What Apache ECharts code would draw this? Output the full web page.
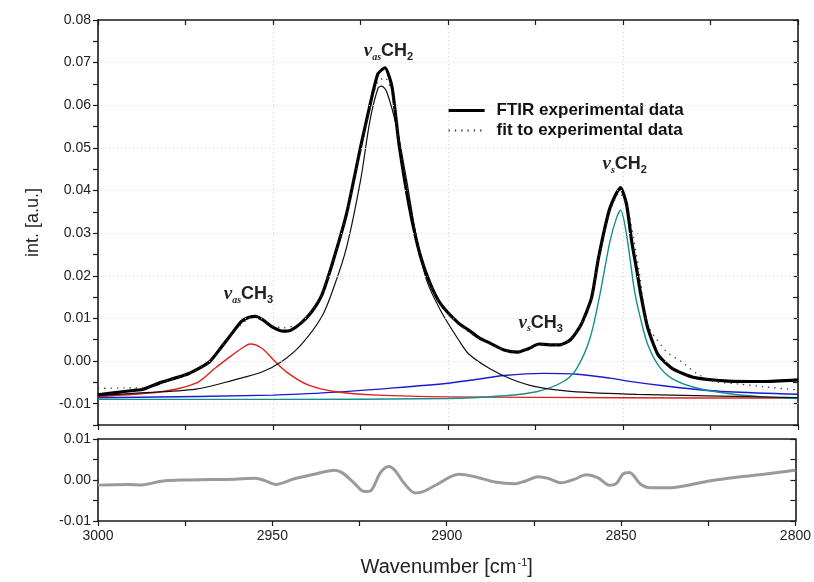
<!DOCTYPE html>
<html>
<head>
<meta charset="utf-8">
<script src="https://cdn.jsdelivr.net/npm/echarts@6/dist/echarts.min.js"></script>
<style>
  html, body { margin: 0; padding: 0; background: #fff; }
  #main { width: 814px; height: 582px; }
</style>
</head>
<body>
<div id="main"></div>
<script>
// FTIR spectrum, thick black
var ftirX = [3000, 2995, 2990, 2987, 2982, 2978, 2974, 2970, 2968, 2965, 2962, 2959, 2957, 2955, 2953, 2950, 2947, 2945, 2942, 2939,
    2936, 2933, 2929, 2925, 2922, 2920, 2918, 2916, 2914, 2911, 2908, 2905, 2902, 2897, 2894, 2891, 2888, 2884, 2880, 2877,
    2874, 2871, 2868, 2865, 2862, 2859, 2857, 2854, 2852, 2850.7, 2849, 2847.5, 2846, 2845, 2843, 2840, 2836, 2830, 2820, 2810, 2800];
var ftirY = [-0.0079, -0.0074, -0.0069, -0.0066, -0.0050, -0.0040, -0.0029, -0.0012, -0.0001, 0.0030, 0.0062, 0.0093, 0.0102, 0.0105, 0.0097, 0.0079, 0.0070, 0.0072, 0.0089, 0.0115,
    0.0156, 0.0230, 0.0345, 0.0501, 0.0611, 0.0674, 0.0688, 0.0643, 0.0509, 0.0360, 0.0250, 0.0180, 0.0133, 0.0089, 0.0072, 0.0054, 0.0042, 0.0026, 0.0021, 0.0029,
    0.0040, 0.0038, 0.0038, 0.0050, 0.0085, 0.0148, 0.0242, 0.0352, 0.0392, 0.0407, 0.0368, 0.0280, 0.0210, 0.0160, 0.0080, 0.0015, -0.0017, -0.0038, -0.0047, -0.0048, -0.0044];

// fit to experimental data, dotted
var fitX = [3000, 2990, 2986, 2982, 2974, 2968, 2962, 2957, 2955, 2950, 2947, 2942, 2936, 2929, 2925, 2922, 2920, 2918, 2916, 2914,
    2911, 2908, 2905, 2902, 2897, 2891, 2884, 2880, 2874, 2868, 2865, 2862, 2859, 2857, 2854, 2851, 2849, 2847, 2845, 2843,
    2837.6, 2833.4, 2829, 2824, 2816.6, 2810, 2800];
var fitY = [-0.0064, -0.0063, -0.0062, -0.0050, -0.0029, -0.0001, 0.0062, 0.0100, 0.0104, 0.0082, 0.0078, 0.0089, 0.0156, 0.0345, 0.0498, 0.0605, 0.0655, 0.0665, 0.0630, 0.0515,
    0.0370, 0.0256, 0.0180, 0.0130, 0.0086, 0.0052, 0.0026, 0.0021, 0.0039, 0.0038, 0.0050, 0.0085, 0.0148, 0.0240, 0.0345, 0.0395, 0.0370, 0.0290, 0.0190, 0.0085,
    0.0022, -0.0001, -0.0029, -0.0048, -0.0054, -0.0060, -0.0068];

// fitted components
var asCH2X = [3000, 2990, 2972, 2961, 2953, 2947.5, 2942, 2936, 2932.5, 2929, 2925, 2922.3, 2920, 2919, 2917.5, 2914.7, 2911.8, 2909, 2906, 2902,
    2897, 2894, 2888, 2882, 2875, 2865, 2846, 2800];
var asCH2Y = [-0.0081, -0.0076, -0.0066, -0.0044, -0.0025, -0.0001, 0.0038, 0.0105, 0.0176, 0.0266, 0.0423, 0.0564, 0.0640, 0.0645, 0.0631, 0.0549, 0.0423, 0.0289, 0.0187, 0.0117,
    0.0050, 0.0016, -0.0018, -0.0042, -0.0060, -0.0071, -0.0078, -0.0086];

var asCH3X = [3000, 2982, 2972, 2966.6, 2962.8, 2958.9, 2956.5, 2953.2, 2949.4, 2945.6, 2940, 2932, 2920, 2900, 2850, 2800];
var asCH3Y = [-0.0083, -0.0072, -0.0052, -0.0017, 0.0007, 0.0030, 0.0040, 0.0030, -0.0001, -0.0029, -0.0056, -0.0072, -0.0080, -0.0084, -0.0086, -0.0087];

var sCH3X = [3000, 2950, 2932, 2917, 2900, 2891, 2884, 2873, 2863, 2853.7, 2848.6, 2838.5, 2829.5, 2820, 2800];
var sCH3Y = [-0.0086, -0.0080, -0.0073, -0.0064, -0.0052, -0.0042, -0.0034, -0.0029, -0.0031, -0.0040, -0.0047, -0.0058, -0.0066, -0.0072, -0.0078];

var sCH2X = [3000, 2950, 2900, 2885, 2874.7, 2867, 2863.2, 2859.4, 2856.6, 2853.7, 2851.8, 2850.7, 2849, 2846.7, 2844.8, 2842.9, 2840, 2836.2, 2829.5, 2820,
    2810, 2800];
var sCH2Y = [-0.0090, -0.0090, -0.0088, -0.0082, -0.0072, -0.0048, -0.0017, 0.0054, 0.0156, 0.0282, 0.0337, 0.0354, 0.0297, 0.0164, 0.0093, 0.0038, -0.0009, -0.0040, -0.0062, -0.0076,
    -0.0084, -0.0088];

// residual (lower panel)
var resX = [3000, 2991.3, 2987.5, 2981.8, 2976.1, 2967.5, 2960.9, 2955.1, 2952.3, 2949, 2943.7, 2938, 2932.3, 2930, 2926.6, 2923.7, 2921.8, 2919, 2916.6, 2914.7,
    2912.3, 2909, 2906.6, 2902.8, 2896.6, 2891.9, 2886.2, 2880.5, 2877.6, 2873.8, 2870.9, 2867.1, 2863.3, 2860, 2856.7, 2853.3, 2851.4, 2849.5, 2847.6, 2844.3,
    2841.4, 2834.8, 2825.2, 2815.7, 2809.1, 2800];
var resY = [-0.00125, -0.0011, -0.0012, -0.0003, 0.0000, 0.0001, 0.0002, 0.0004, -0.0001, -0.0011, 0.0003, 0.0014, 0.0024, 0.0018, -0.0007, -0.0028, -0.0026, 0.0018, 0.0033, 0.0022,
    -0.0007, -0.0032, -0.0028, -0.0011, 0.0014, 0.0008, -0.0005, -0.0009, -0.0003, 0.0008, 0.0004, -0.0007, 0.0002, 0.0013, 0.0006, -0.0013, -0.0009, 0.0014, 0.0018, -0.0011,
    -0.0019, -0.0018, -0.0003, 0.0008, 0.0014, 0.0024];

var yGridTop = [-0.01, 0.00, 0.01, 0.02, 0.03, 0.04, 0.05, 0.06, 0.07];

// peak labels: [wavenumber, value, subscript, number]
var peakLabels = [
    [2917, 0.0727, 'as', '2'],
    [2957, 0.0157, 'as', '3'],
    [2873.5, 0.0090, 's', '3'],
    [2849.5, 0.0462, 's', '2']
];

function pairs(xs, ys) {
    var out = [];
    for (var i = 0; i < xs.length; i++) out.push([xs[i], ys[i]]);
    return out;
}

function tickFmt(v) {
    var k = Math.round(v * 1000);
    if (Math.abs(k) % 10 !== 0) return '';
    return (Math.round(v * 100) / 100).toFixed(2);
}

var fontFam = '"Liberation Sans", Arial, sans-serif';
var axisCol = '#1a1a1a';

function xAx(grid, pos, opts) {
    var a = {
        type: 'value', gridIndex: grid, position: pos,
        min: 2800, max: 3000, interval: 50, inverse: true,
        axisLine: { show: true, onZero: false, lineStyle: { color: axisCol, width: 1.6 } },
        axisTick: { show: true, inside: opts.inside, length: 5, lineStyle: { color: axisCol, width: 1.2 } },
        minorTick: { show: true, splitNumber: 2, length: 5, lineStyle: { color: axisCol, width: 1.2 } },
        axisLabel: { show: false },
        splitLine: { show: false }
    };
    for (var k in opts.extra) a[k] = opts.extra[k];
    return a;
}

function yAx(grid, pos, min, max, inside, showLabel) {
    return {
        type: 'value', gridIndex: grid, position: pos,
        min: min, max: max, interval: 0.005,
        axisLine: { show: true, onZero: false, lineStyle: { color: axisCol, width: 1.6 } },
        axisTick: { show: true, inside: inside, length: 5, lineStyle: { color: axisCol, width: 1.2 } },
        axisLabel: { show: showLabel, formatter: tickFmt, fontSize: 14, color: '#222', fontFamily: fontFam, margin: 7 },
        splitLine: { show: false }
    };
}

var myChart = echarts.init(document.getElementById('main'), null, { renderer: 'canvas' });

var yLeftTop = yAx(0, 'left', -0.015, 0.08, false, true);
yLeftTop.name = 'int. [a.u.]';
yLeftTop.nameLocation = 'middle';
yLeftTop.nameGap = 56;
yLeftTop.nameTextStyle = { fontSize: 18, color: '#222', fontFamily: fontFam };

var option = {
    animation: false,
    backgroundColor: '#fff',
    grid: [
        { left: 98, right: 16, top: 20, height: 405 },
        { left: 98, right: 16, top: 439, height: 82 }
    ],
    legend: {
        data: [
            { name: 'FTIR experimental data', lineStyle: { width: 3.2 } },
            { name: 'fit to experimental data' }
        ],
        orient: 'vertical',
        left: 442, top: 97,
        itemWidth: 36, itemHeight: 14, itemGap: 3,
        itemStyle: { opacity: 0 },
        textStyle: { fontSize: 17, fontWeight: 'bold', color: '#111', fontFamily: fontFam, padding: [0, 0, 0, 7] }
    },
    xAxis: [
        xAx(0, 'bottom', { inside: false, extra: { splitLine: { show: true, lineStyle: { type: [1, 3], color: '#d4d4d4', width: 1 } } } }),
        xAx(0, 'top', { inside: true, extra: {} }),
        xAx(1, 'bottom', { inside: false, extra: {
            axisLabel: { show: true, fontSize: 14, color: '#222', fontFamily: fontFam, margin: 8,
                formatter: function (v) { return String(v); } },
            name: '{a|Wavenumber [cm}{s|-1}{a|]}',
            nameLocation: 'middle', nameGap: 36,
            nameTextStyle: { rich: {
                a: { fontSize: 20, color: '#222', fontFamily: fontFam },
                s: { fontSize: 11, color: '#222', fontFamily: fontFam, verticalAlign: 'top', padding: [0, 0, 10, 1] }
            } }
        } }),
        xAx(1, 'top', { inside: true, extra: { axisTick: { show: false }, minorTick: { show: false } } })
    ],
    yAxis: [
        yLeftTop,
        yAx(0, 'right', -0.015, 0.08, true, false),
        yAx(1, 'left', -0.01, 0.01, false, true),
        yAx(1, 'right', -0.01, 0.01, true, false)
    ],
    series: [
        {
            name: 'grid', type: 'line', data: [], xAxisIndex: 0, yAxisIndex: 0, z: 1, silent: true,
            markLine: {
                silent: true, symbol: ['none', 'none'], label: { show: false },
                lineStyle: { type: [1, 3], color: '#d4d4d4', width: 1 },
                data: yGridTop.map(function (v) { return { yAxis: v }; })
            }
        },
        {
            name: 'sCH3', type: 'line', xAxisIndex: 0, yAxisIndex: 0, z: 3,
            data: pairs(sCH3X, sCH3Y), showSymbol: false, smooth: 0.3,
            lineStyle: { color: '#1a1ad0', width: 1.4 }, itemStyle: { color: '#1a1ad0' }
        },
        {
            name: 'asCH3', type: 'line', xAxisIndex: 0, yAxisIndex: 0, z: 3,
            data: pairs(asCH3X, asCH3Y), showSymbol: false, smooth: 0.3,
            lineStyle: { color: '#e0201c', width: 1.4 }, itemStyle: { color: '#e0201c' }
        },
        {
            name: 'sCH2', type: 'line', xAxisIndex: 0, yAxisIndex: 0, z: 3,
            data: pairs(sCH2X, sCH2Y), showSymbol: false, smooth: 0.3,
            lineStyle: { color: '#12908e', width: 1.4 }, itemStyle: { color: '#12908e' }
        },
        {
            name: 'asCH2', type: 'line', xAxisIndex: 0, yAxisIndex: 0, z: 3,
            data: pairs(asCH2X, asCH2Y), showSymbol: false, smooth: 0.3,
            lineStyle: { color: '#111', width: 1.2 }, itemStyle: { color: '#111' }
        },
        {
            name: 'FTIR experimental data', type: 'line', xAxisIndex: 0, yAxisIndex: 0, z: 4,
            data: pairs(ftirX, ftirY), showSymbol: false, symbol: 'none', smooth: 0.2,
            lineStyle: { color: '#000', width: 3.2 }, itemStyle: { color: '#000' },
            markPoint: {
                symbol: 'circle', symbolSize: 0, silent: true,
                label: {
                    show: true, position: 'inside',
                    rich: {
                        nu: { fontSize: 19, fontStyle: 'italic', fontWeight: 'bold', fontFamily: '"Liberation Serif", "DejaVu Serif", serif', color: '#222' },
                        sb: { fontSize: 10, fontStyle: 'italic', fontWeight: 'bold', fontFamily: '"Liberation Serif", serif', color: '#222', padding: [12, 0, 0, 0] },
                        ch: { fontSize: 18, fontWeight: 'bold', fontFamily: fontFam, color: '#222' },
                        n: { fontSize: 11, fontWeight: 'bold', fontFamily: fontFam, color: '#222', padding: [12, 0, 0, 0] }
                    }
                },
                data: peakLabels.map(function (p) {
                    return {
                        coord: [p[0], p[1]],
                        label: { formatter: '{nu|ν}{sb|' + p[2] + '}{ch|CH}{n|' + p[3] + '}' }
                    };
                })
            }
        },
        {
            name: 'fit to experimental data', type: 'line', xAxisIndex: 0, yAxisIndex: 0, z: 5,
            data: pairs(fitX, fitY), showSymbol: false, symbol: 'none', smooth: 0.2,
            lineStyle: { color: '#333', width: 1.3, type: [1.3, 5] }, itemStyle: { color: '#333' }
        },
        {
            name: 'residual', type: 'line', xAxisIndex: 2, yAxisIndex: 2, z: 3,
            data: pairs(resX, resY), showSymbol: false, smooth: 0.3,
            lineStyle: { color: '#9a9a9a', width: 3 }, itemStyle: { color: '#9a9a9a' }
        }
    ]
};

if (option && typeof option === 'object') {
    myChart.setOption(option);
}
</script>
</body>
</html>
